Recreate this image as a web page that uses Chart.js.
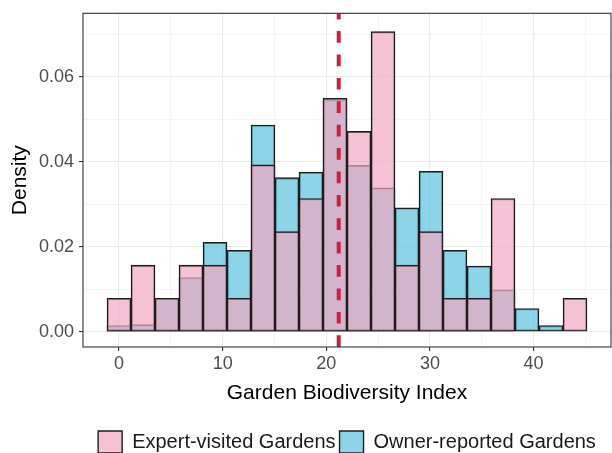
<!DOCTYPE html>
<html>
<head>
<meta charset="utf-8">
<script src="https://cdn.jsdelivr.net/npm/chart.js@4.4.1/dist/chart.umd.min.js"></script>
<style>
  html, body { margin: 0; padding: 0; background: #fff; }
  #wrap { width: 612px; height: 453px; }
</style>
</head>
<body>
<div id="wrap"><canvas id="chart" width="612" height="453"></canvas></div>
<script>
// histogram bin centres (20 bins over 0..44)
var binCenters = [0, 2.316, 4.632, 6.947, 9.263, 11.579, 13.895, 16.211, 18.526, 20.842,
                  23.158, 25.474, 27.789, 30.105, 32.421, 34.737, 37.053, 39.368, 41.684, 44.0];
var expertDensity = [0.0079, 0.0157, 0.0079, 0.0157, 0.0157, 0.0079, 0.0393, 0.0236, 0.0314, 0.0550,
                     0.0472, 0.0707, 0.0157, 0.0236, 0.0079, 0.0079, 0.0314, 0, 0, 0.0079];
var ownerDensity = [0.0015, 0.0017, 0.0079, 0.0128, 0.0211, 0.0192, 0.0487, 0.0363, 0.0376, 0.0547,
                    0.0392, 0.0339, 0.0292, 0.0378, 0.0192, 0.0155, 0.0099, 0.0055, 0.0015, 0];
var seriesNames = ['Expert-visited Gardens', 'Owner-reported Gardens'];
var xTicks = [0, 10, 20, 30, 40];
var yTicks = [0, 0.02, 0.04, 0.06];
var meanIndex = 21.2;

var FONT = "'Liberation Sans', Arial, sans-serif";
var GRID = '#EBEBEB';

function toPoints(vals) {
    return vals.map(function (v, i) { return { x: binCenters[i], y: v }; });
}
// minor grid lines sit halfway between major ticks
function withMinor(ticks, extra) {
    var out = [];
    var step = ticks[1] - ticks[0];
    ticks.forEach(function (t) { out.push(t); out.push(+(t + step / 2).toFixed(6)); });
    return out.concat(extra || []);
}
function isMajor(list, v) {
    return list.some(function (t) { return Math.abs(t - v) < 1e-9; });
}
function tickMajor(list, c) {
    return !!(c && c.tick && isMajor(list, c.tick.value));
}

var meanLine = {
    id: 'meanLine',
    afterDatasetsDraw: function (chart) {
        var ctx = chart.ctx, a = chart.chartArea;
        var x = chart.scales.x.getPixelForValue(meanIndex);
        ctx.save();
        ctx.beginPath();
        ctx.rect(a.left, a.top, a.right - a.left, a.bottom - a.top);
        ctx.clip();
        ctx.strokeStyle = '#C9203F';
        ctx.lineWidth = 4;
        ctx.setLineDash([11.7, 11.7]);
        ctx.beginPath();
        ctx.moveTo(x, a.bottom);
        ctx.lineTo(x, a.top);
        ctx.stroke();
        ctx.restore();
    },
    afterDraw: function (chart) {
        var ctx = chart.ctx, a = chart.chartArea;
        ctx.save();
        ctx.strokeStyle = '#333333';
        ctx.lineWidth = 1.1;
        ctx.strokeRect(a.left, a.top, a.right - a.left, a.bottom - a.top);
        ctx.restore();
    }
};

new Chart(document.getElementById('chart'), {
    type: 'bar',
    data: {
        datasets: [{
            label: seriesNames[0],
            data: toPoints(expertDensity),
            backgroundColor: 'rgba(241,170,195,0.7)',
            borderColor: '#1E1E1E',
            borderWidth: 1.4,
            borderSkipped: false,
            grouped: false,
            barPercentage: 1,
            categoryPercentage: 1
        }, {
            label: seriesNames[1],
            data: toPoints(ownerDensity),
            backgroundColor: 'rgba(94,194,222,0.7)',
            borderColor: '#1E1E1E',
            borderWidth: 1.4,
            borderSkipped: false,
            grouped: false,
            barPercentage: 1,
            categoryPercentage: 1
        }]
    },
    options: {
        responsive: false,
        animation: false,
        layout: { padding: { top: 13.3, right: 1, left: 0, bottom: -10 } },
        plugins: {
            tooltip: { enabled: false },
            legend: {
                position: 'bottom',
                fullSize: false,
                labels: {
                    font: { family: FONT, size: 20 },
                    color: '#1A1A1A',
                    boxWidth: 24,
                    boxHeight: 22,
                    padding: 4
                }
            }
        },
        scales: {
            x: {
                type: 'linear',
                offset: false,
                min: -3.474,
                max: 47.474,
                afterBuildTicks: function (s) {
                    s.ticks = withMinor(xTicks, [45]).filter(function (v, i, arr) { return arr.indexOf(v) === i; })
                        .map(function (v) { return { value: v }; });
                },
                ticks: {
                    autoSkip: false,
                    maxRotation: 0,
                    padding: 2.5,
                    color: '#4D4D4D',
                    font: { family: FONT, size: 18 },
                    callback: function (v) { return isMajor(xTicks, v) ? String(v) : ''; }
                },
                grid: {
                    offset: false,
                    color: GRID,
                    lineWidth: function (c) { return tickMajor(xTicks, c) ? 1.1 : 0.55; },
                    tickColor: function (c) { return tickMajor(xTicks, c) ? '#333333' : 'rgba(0,0,0,0)'; },
                    tickLength: 4,
                    tickWidth: 1.1
                },
                border: { display: false },
                title: {
                    display: true,
                    text: 'Garden Biodiversity Index',
                    color: '#000',
                    font: { family: FONT, size: 21 },
                    padding: { top: 2.7, bottom: 21.5 }
                }
            },
            y: {
                min: -0.00357,
                max: 0.0750,
                afterBuildTicks: function (s) {
                    s.ticks = withMinor(yTicks).filter(function (v) { return v <= 0.075; })
                        .map(function (v) { return { value: v }; });
                },
                afterFit: function (s) { s.width = 83; s.paddingTop = 0; s.paddingBottom = 0; },
                ticks: {
                    padding: 5,
                    color: '#4D4D4D',
                    font: { family: FONT, size: 18 },
                    callback: function (v) { return isMajor(yTicks, v) ? v.toFixed(2) : ''; }
                },
                grid: {
                    color: GRID,
                    lineWidth: function (c) { return tickMajor(yTicks, c) ? 1.1 : 0.55; },
                    tickColor: function (c) { return tickMajor(yTicks, c) ? '#333333' : 'rgba(0,0,0,0)'; },
                    tickLength: 4,
                    tickWidth: 1.1
                },
                border: { display: false },
                title: {
                    display: true,
                    text: 'Density',
                    color: '#000',
                    font: { family: FONT, size: 21 },
                    padding: { top: 8, bottom: 0 }
                }
            }
        }
    },
    plugins: [meanLine]
});
</script>
</body>
</html>
